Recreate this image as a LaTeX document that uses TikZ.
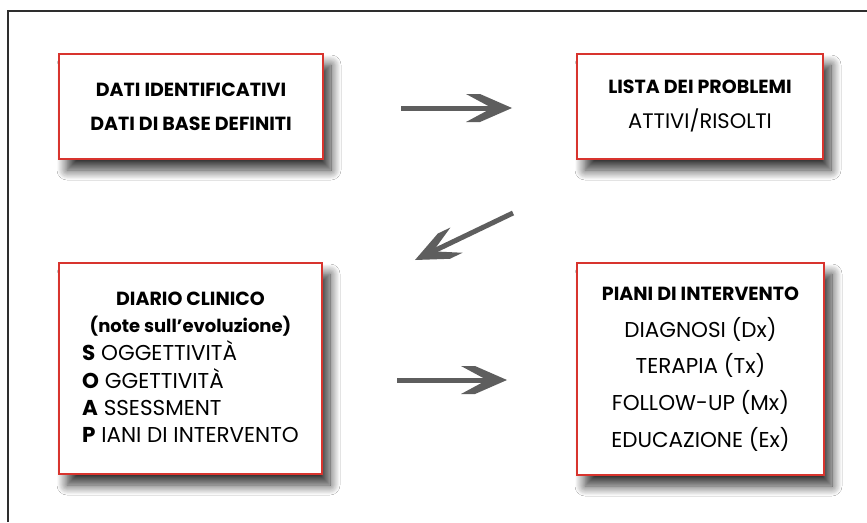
\documentclass[tikz,border=0pt]{standalone}
\usepackage{fontspec}
\setmainfont{Poppins}
\usetikzlibrary{shadows.blur}
\definecolor{boxred}{HTML}{D8342E}
\definecolor{arrowgray}{HTML}{5E5E5E}
\definecolor{framegray}{HTML}{2E2E2E}
\tikzset{
  card/.style={draw=boxred, line width=1.3pt, fill=white, inner sep=0pt,
    blur shadow={shadow xshift=8pt, shadow yshift=-11pt, shadow blur radius=10pt,
      shadow blur steps=14, shadow opacity=80}},
  shaft/.style={draw=arrowgray, line width=5pt, shorten >=19pt},
  chev/.pic={\fill[arrowgray] (0,0) -- (-32,14) -- (-46,14) -- (-20,0)
      -- (-46,-14) -- (-32,-14) -- cycle;},
  frame/.style={draw=framegray, line width=1.5pt}
}
\begin{document}
\begin{tikzpicture}[x=1pt,y=-1pt]
\useasboundingbox (0,0) rectangle (867,522);
\fill[white] (0,0) rectangle (867,522);
\coordinate (fl) at (8,522);
\coordinate (ft) at (8,11);
\coordinate (fr) at (867,11);
\draw[frame] (fl) -- (ft) -- (fr);

\node[card, minimum width=264pt, minimum height=105pt, align=center,
  font=\fontsize{19}{34}\selectfont\bfseries] (dati) at (191,106.5)
  {DATI IDENTIFICATIVI\\ DATI DI BASE DEFINITI};

\node[card, minimum width=246pt, minimum height=105pt, align=center,
  font=\fontsize{19}{35}\selectfont] (lista) at (700,106.5)
  {\bfseries LISTA DEI PROBLEMI\\ \fontsize{21}{35}\selectfont ATTIVI/RISOLTI};

\node[card, minimum width=263pt, minimum height=211pt,
  font=\fontsize{21.5}{27}\selectfont] (diario) at (190.5,368.5)
  {\begin{tabular}{@{}l@{}}
   \multicolumn{1}{@{}c@{}}{\fontsize{19}{27}\selectfont\bfseries DIARIO CLINICO}\\
   \multicolumn{1}{@{}c@{}}{\fontsize{18}{27}\selectfont\bfseries (note sull’evoluzione)}\\
   \textbf{S} OGGETTIVITÀ\\
   \textbf{O} GGETTIVITÀ\\
   \textbf{A} SSESSMENT\\
   \textbf{P} IANI DI INTERVENTO
   \end{tabular}};

\node[card, minimum width=247pt, minimum height=212pt, align=center,
  font=\fontsize{21.5}{36.7}\selectfont] (piani) at (700.5,369)
  {{\fontsize{19}{36.7}\selectfont\bfseries PIANI DI INTERVENTO}\\ DIAGNOSI (Dx)\\ TERAPIA (Tx)\\ FOLLOW-UP (Mx)\\ EDUCAZIONE (Ex)};

\coordinate (a1s) at (401,108);
\coordinate (a1e) at (512,108);
\coordinate (a2s) at (513,213);
\coordinate (a2e) at (415,260);
\coordinate (a3s) at (397,380);
\coordinate (a3e) at (507,380);
\draw[shaft] (a1s) -- (a1e);
\pic at (a1e) {chev};
\draw[shaft] (a2s) -- (a2e);
\pic[rotate=205.6] at (a2e) {chev};
\draw[shaft] (a3s) -- (a3e);
\pic at (a3e) {chev};
\end{tikzpicture}
\end{document}
